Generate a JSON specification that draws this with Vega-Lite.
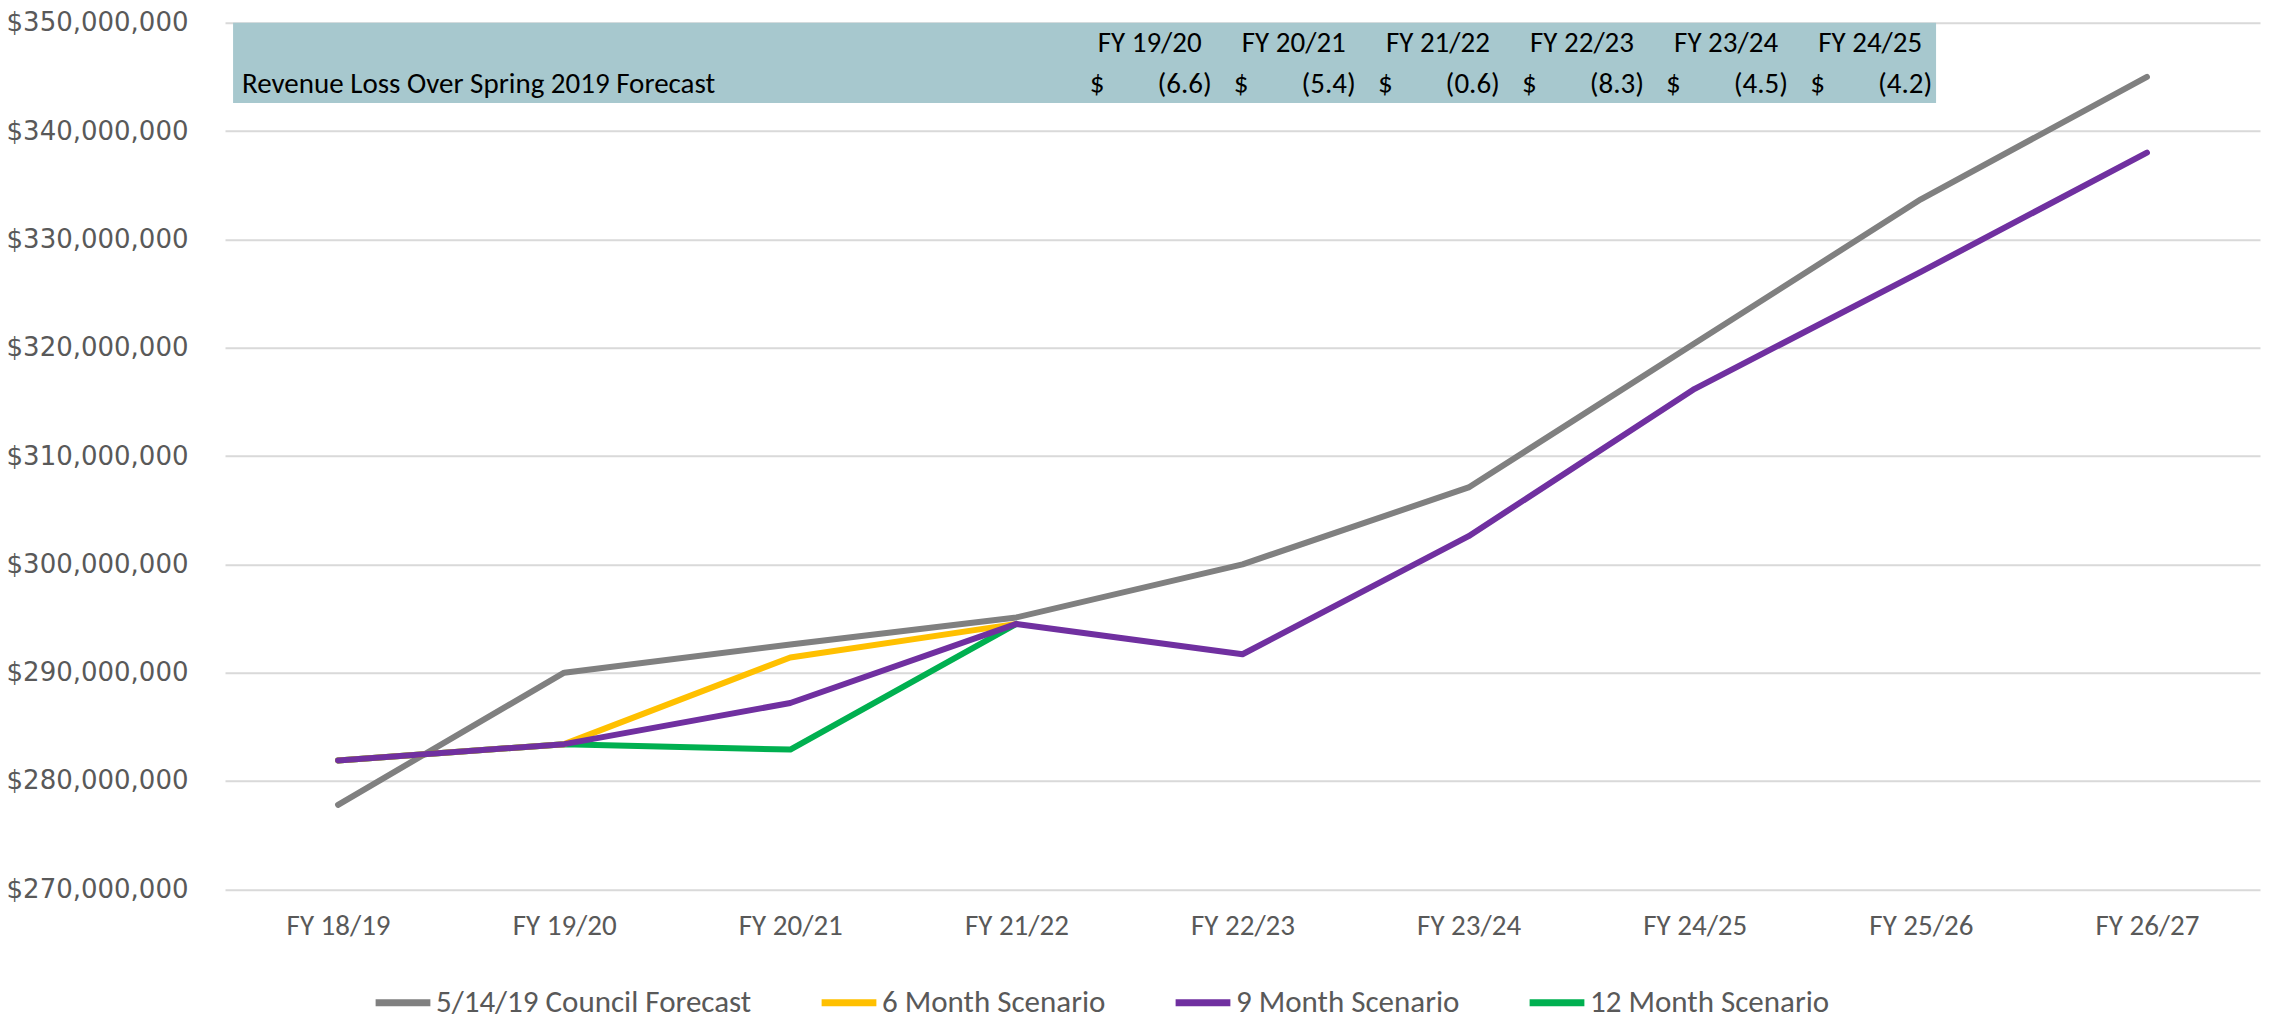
{
  "$schema": "https://vega.github.io/schema/vega-lite/v6.json",
  "width": 2035,
  "height": 866.6,
  "autosize": {"type": "none"},
  "padding": {"left": 225, "top": 22.7, "right": 12, "bottom": 137.7},
  "background": "white",
  "datasets": {
    "series": [
      {"year": "FY 18/19", "series": "5/14/19 Council Forecast", "value": 277800000},
      {"year": "FY 19/20", "series": "5/14/19 Council Forecast", "value": 290000000},
      {"year": "FY 20/21", "series": "5/14/19 Council Forecast", "value": 292600000},
      {"year": "FY 21/22", "series": "5/14/19 Council Forecast", "value": 295100000},
      {"year": "FY 22/23", "series": "5/14/19 Council Forecast", "value": 300000000},
      {"year": "FY 23/24", "series": "5/14/19 Council Forecast", "value": 307100000},
      {"year": "FY 24/25", "series": "5/14/19 Council Forecast", "value": 320400000},
      {"year": "FY 25/26", "series": "5/14/19 Council Forecast", "value": 333700000},
      {"year": "FY 26/27", "series": "5/14/19 Council Forecast", "value": 345000000},
      {"year": "FY 18/19", "series": "12 Month Scenario", "value": 281900000},
      {"year": "FY 19/20", "series": "12 Month Scenario", "value": 283400000},
      {"year": "FY 20/21", "series": "12 Month Scenario", "value": 282900000},
      {"year": "FY 21/22", "series": "12 Month Scenario", "value": 294500000},
      {"year": "FY 18/19", "series": "6 Month Scenario", "value": 281900000},
      {"year": "FY 19/20", "series": "6 Month Scenario", "value": 283400000},
      {"year": "FY 20/21", "series": "6 Month Scenario", "value": 291400000},
      {"year": "FY 21/22", "series": "6 Month Scenario", "value": 294500000},
      {"year": "FY 18/19", "series": "9 Month Scenario", "value": 281900000},
      {"year": "FY 19/20", "series": "9 Month Scenario", "value": 283400000},
      {"year": "FY 20/21", "series": "9 Month Scenario", "value": 287200000},
      {"year": "FY 21/22", "series": "9 Month Scenario", "value": 294500000},
      {"year": "FY 22/23", "series": "9 Month Scenario", "value": 291700000},
      {"year": "FY 23/24", "series": "9 Month Scenario", "value": 302600000},
      {"year": "FY 24/25", "series": "9 Month Scenario", "value": 316200000},
      {"year": "FY 25/26", "series": "9 Month Scenario", "value": 327000000},
      {"year": "FY 26/27", "series": "9 Month Scenario", "value": 338000000}
    ],
    "table": [
      {"col": 1, "year": "FY 19/20", "loss": "(6.6)"},
      {"col": 2, "year": "FY 20/21", "loss": "(5.4)"},
      {"col": 3, "year": "FY 21/22", "loss": "(0.6)"},
      {"col": 4, "year": "FY 22/23", "loss": "(8.3)"},
      {"col": 5, "year": "FY 23/24", "loss": "(4.5)"},
      {"col": 6, "year": "FY 24/25", "loss": "(4.2)"}
    ],
    "single": [{"label": "Revenue Loss Over Spring 2019 Forecast"}]
  },
  "config": {
    "view": {"stroke": null},
    "axisY": {
      "labelFont": "DejaVu Sans",
      "labelFontSize": 26,
      "labelColor": "#595959",
      "labelPadding": 37,
      "labelLimit": 400,
      "domain": false,
      "ticks": false,
      "grid": true,
      "gridColor": "#D9D9D9",
      "gridWidth": 2,
      "title": null
    },
    "axisX": {
      "labelFont": "Carlito, Lato",
      "labelFontSize": 29,
      "labelColor": "#595959",
      "labelPadding": 22,
      "domain": false,
      "ticks": false,
      "grid": false,
      "labelAngle": 0,
      "title": null
    }
  },
  "resolve": {"scale": {"x": "independent"}},
  "layer": [
    {
      "data": {"name": "series"},
      "mark": {"type": "line", "strokeWidth": 6, "strokeCap": "round", "strokeJoin": "round"},
      "encoding": {
        "x": {"field": "year", "type": "ordinal", "sort": null,
              "scale": {"domain": ["FY 18/19", "FY 19/20", "FY 20/21", "FY 21/22", "FY 22/23", "FY 23/24", "FY 24/25", "FY 25/26", "FY 26/27"]}},
        "y": {"field": "value", "type": "quantitative",
              "scale": {"domain": [270000000, 350000000], "nice": false, "zero": false},
              "axis": {"format": "$,.0f", "grid": true, "values": [270000000, 280000000, 290000000, 300000000, 310000000, 320000000, 330000000, 340000000, 350000000]}},
        "color": {"field": "series", "type": "nominal",
                  "scale": {"domain": ["5/14/19 Council Forecast", "6 Month Scenario", "9 Month Scenario", "12 Month Scenario"],
                            "range": ["#808080", "#FFC000", "#7030A0", "#00B050"]},
                  "legend": {
                    "title": null,
                    "orient": "none",
                    "legendX": 147,
                    "legendY": 949,
                    "direction": "horizontal",
                    "symbolType": "stroke",
                    "symbolSize": 3000,
                    "symbolStrokeWidth": 7,
                    "labelFont": "Carlito, Lato",
                    "labelFontSize": 31,
                    "labelColor": "#595959",
                    "labelOffset": 2,
                    "labelLimit": 1000,
                    "columnPadding": 55
                  }},
        "detail": {"field": "series"}
      }
    },
    {
      "data": {"name": "single"},
      "mark": {"type": "rect", "color": "#A7C8CE"},
      "encoding": {
        "x": {"datum": -5.361, "type": "quantitative", "scale": {"domain": [-5.417, 8.705], "nice": false, "zero": false}, "axis": null},
        "x2": {"datum": 6.457},
        "y": {"datum": 342590000, "type": "quantitative", "scale": {"domain": [270000000, 350000000], "nice": false, "zero": false}},
        "y2": {"datum": 350000000}
      }
    },
    {
      "data": {"name": "table"},
      "layer": [
        {
          "mark": {"type": "text", "font": "Carlito, Lato", "fontSize": 29, "color": "#000000", "align": "center", "baseline": "middle"},
          "encoding": {
            "x": {"field": "col", "type": "quantitative", "scale": {"domain": [-5.417, 8.705], "nice": false, "zero": false}, "axis": null},
            "y": {"datum": 348130000, "type": "quantitative", "scale": {"domain": [270000000, 350000000], "nice": false, "zero": false}},
            "text": {"field": "year"}
          }
        },
        {
          "mark": {"type": "text", "font": "Carlito, Lato", "fontSize": 29, "color": "#000000", "align": "right", "baseline": "middle", "dx": 62},
          "encoding": {
            "x": {"field": "col", "type": "quantitative", "scale": {"domain": [-5.417, 8.705], "nice": false, "zero": false}, "axis": null},
            "y": {"datum": 344340000, "type": "quantitative", "scale": {"domain": [270000000, 350000000], "nice": false, "zero": false}},
            "text": {"field": "loss"}
          }
        },
        {
          "mark": {"type": "text", "font": "Carlito, Lato", "fontSize": 29, "color": "#000000", "align": "left", "baseline": "middle", "dx": -60},
          "encoding": {
            "x": {"field": "col", "type": "quantitative", "scale": {"domain": [-5.417, 8.705], "nice": false, "zero": false}, "axis": null},
            "y": {"datum": 344340000, "type": "quantitative", "scale": {"domain": [270000000, 350000000], "nice": false, "zero": false}},
            "text": {"value": "$"}
          }
        }
      ]
    },
    {
      "data": {"name": "single"},
      "mark": {"type": "text", "font": "Carlito, Lato", "fontSize": 29, "color": "#000000", "align": "left", "baseline": "middle"},
      "encoding": {
        "x": {"datum": -5.299, "type": "quantitative", "scale": {"domain": [-5.417, 8.705], "nice": false, "zero": false}, "axis": null},
        "y": {"datum": 344340000, "type": "quantitative", "scale": {"domain": [270000000, 350000000], "nice": false, "zero": false}},
        "text": {"field": "label"}
      }
    }
  ]
}
